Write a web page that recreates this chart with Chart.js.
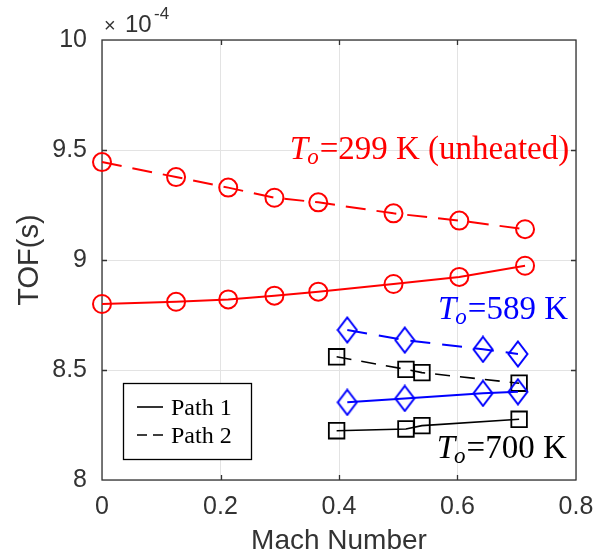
<!DOCTYPE html>
<html>
<head>
<meta charset="utf-8">
<script src="https://cdn.jsdelivr.net/npm/chart.js@4/dist/chart.umd.min.js"></script>
<style>
  html, body { margin: 0; padding: 0; background: #fff; }
  #wrap { width: 595px; height: 556px; }
</style>
</head>
<body>
<div id="wrap"><canvas id="tofChart" width="595" height="556"></canvas></div>
<script>
  // Mach number and time of flight (x 1e-4 s) per stagnation temperature
  const mach299 = [0, 0.125, 0.213, 0.291, 0.365, 0.492, 0.603, 0.714];
  const tof299Path1 = [8.800, 8.810, 8.821, 8.838, 8.856, 8.891, 8.923, 8.974];
  const tof299Path2 = [9.445, 9.377, 9.329, 9.283, 9.262, 9.212, 9.179, 9.140];

  const mach589 = [0.414, 0.511, 0.643, 0.702];
  const tof589Path1 = [8.353, 8.371, 8.394, 8.401];
  const tof589Path2 = [8.682, 8.636, 8.594, 8.573];

  const mach700 = [0.396, 0.513, 0.540, 0.704];
  const tof700Path1 = [8.224, 8.232, 8.247, 8.276];
  const tof700Path2 = [8.560, 8.503, 8.488, 8.440];

  const xTickLabels = ['0', '0.2', '0.4', '0.6', '0.8'];
  const yTickLabels = ['8', '8.5', '9', '9.5', '10'];

  // text placed at (x, y) in data units, left edge / baseline
  const tempLabels = [
    { temp: '299 K (unheated)', color: '#ff0000', x: 0.317, y: 9.459 },
    { temp: '589 K', color: '#0000ff', x: 0.567, y: 8.732 },
    { temp: '700 K', color: '#000000', x: 0.565, y: 8.100 },
  ];

  const axisColor = '#333333';
  const gridColor = '#e3e3e3';

  function toPoints(xs, ys) {
    return xs.map((x, i) => ({ x: x, y: ys[i] }));
  }

  // tall diamond marker (MATLAB 'd')
  function makeDiamond(color) {
    const c = document.createElement('canvas');
    c.width = 22; c.height = 28;
    const g = c.getContext('2d');
    g.strokeStyle = color;
    g.lineWidth = 2;
    g.beginPath();
    g.moveTo(11, 1.5);
    g.lineTo(20.5, 14);
    g.lineTo(11, 26.5);
    g.lineTo(1.5, 14);
    g.closePath();
    g.stroke();
    return c;
  }
  const diamond = makeDiamond('#0000ff');

  function series(xs, ys, color, dashed, marker, width) {
    return {
      data: toPoints(xs, ys),
      borderColor: color,
      borderWidth: width,
      borderDash: dashed || [],
      tension: 0,
      pointStyle: marker.style,
      pointRadius: marker.radius,
      pointBorderWidth: marker.width,
      pointBorderColor: color,
      pointBackgroundColor: 'rgba(0,0,0,0)',
      pointHoverRadius: marker.radius,
      clip: false,
    };
  }

  const circle = { style: 'circle', radius: 9, width: 2 };
  const square = { style: 'rect', radius: 11, width: 1.8 };
  const diam = { style: diamond, radius: 10, width: 2 };

  // box, inward ticks
  const axesBox = {
    id: 'axesBox',
    beforeDatasetsDraw(chart) {
      const { ctx, chartArea: a, scales } = chart;
      ctx.save();
      ctx.strokeStyle = axisColor;
      ctx.lineWidth = 1.3;
      ctx.strokeRect(a.left, a.top, a.right - a.left, a.bottom - a.top);
      ctx.beginPath();
      [0.2, 0.4, 0.6].forEach(v => {
        const px = Math.round(scales.x.getPixelForValue(v)) + 0.5;
        ctx.moveTo(px, a.bottom); ctx.lineTo(px, a.bottom - 5);
        ctx.moveTo(px, a.top); ctx.lineTo(px, a.top + 5);
      });
      [8.5, 9, 9.5].forEach(v => {
        const py = Math.round(scales.y.getPixelForValue(v)) + 0.5;
        ctx.moveTo(a.left, py); ctx.lineTo(a.left + 5, py);
        ctx.moveTo(a.right, py); ctx.lineTo(a.right - 5, py);
      });
      ctx.stroke();

      // exponent above the y axis
      ctx.fillStyle = axisColor;
      ctx.textBaseline = 'alphabetic';
      ctx.font = '20px "Liberation Sans"';
      ctx.fillText('\u00d7', a.left + 2, 32);
      ctx.font = '24px "Liberation Sans"';
      ctx.fillText('10', a.left + 23, 32);
      ctx.font = '17px "Liberation Sans"';
      ctx.fillText('-4', a.left + 52, 19);
      ctx.restore();
    },
    afterDraw(chart) {
      const { ctx, chartArea: a, scales } = chart;
      ctx.save();

      // temperature labels
      tempLabels.forEach(l => {
        let x = scales.x.getPixelForValue(l.x);
        const base = scales.y.getPixelForValue(l.y);
        ctx.fillStyle = l.color;
        ctx.textBaseline = 'alphabetic';
        ctx.textAlign = 'left';
        ctx.font = 'italic 33px "Liberation Serif"';
        ctx.fillText('T', x, base);
        x += ctx.measureText('T').width - 1;
        ctx.font = 'italic 23px "Liberation Serif"';
        ctx.fillText('o', x, base + 5);
        x += ctx.measureText('o').width + 1;
        ctx.font = '33px "Liberation Serif"';
        ctx.fillText('=' + l.temp, x, base);
      });

      // legend box
      const lx = a.left + 21, ly = a.bottom - 97, lw = 128, lh = 76;
      ctx.fillStyle = '#ffffff';
      ctx.fillRect(lx, ly, lw, lh);
      ctx.strokeStyle = '#000000';
      ctx.lineWidth = 1.3;
      ctx.strokeRect(lx + 0.5, ly + 0.5, lw, lh);
      ctx.lineWidth = 1.6;
      ctx.beginPath();
      ctx.moveTo(lx + 14, ly + 24); ctx.lineTo(lx + 40, ly + 24);
      ctx.stroke();
      ctx.setLineDash([10, 6]);
      ctx.beginPath();
      ctx.moveTo(lx + 14, ly + 52); ctx.lineTo(lx + 40, ly + 52);
      ctx.stroke();
      ctx.setLineDash([]);
      ctx.fillStyle = '#000000';
      ctx.font = '24px "Liberation Serif"';
      ctx.fillText('Path 1', lx + 48, ly + 32);
      ctx.fillText('Path 2', lx + 48, ly + 60);
      ctx.restore();
    }
  };

  const config = {
    type: 'line',
    data: {
      datasets: [
        series(mach299, tof299Path1, '#ff0000', null, circle, 2),
        series(mach299, tof299Path2, '#ff0000', [20, 11], circle, 2),
        series(mach589, tof589Path1, '#0000ff', null, diam, 2),
        series(mach589, tof589Path2, '#0000ff', [20, 12], diam, 2),
        series(mach700, tof700Path1, '#000000', null, square, 1.6),
        series(mach700, tof700Path2, '#000000', [15, 10], square, 1.6),
      ],
    },
    options: {
      responsive: false,
      animation: false,
      layout: { padding: { top: 40, right: 19, left: 0, bottom: 0 } },
      plugins: {
        legend: { display: false },
        tooltip: { enabled: false },
      },
      scales: {
        x: {
          type: 'linear',
          min: 0,
          max: 0.8,
          afterFit(scale) {
            scale.height = 76;
            scale.paddingLeft = 0;
            scale.paddingRight = 0;
          },
          ticks: {
            stepSize: 0.2,
            padding: 12,
            color: axisColor,
            font: { family: 'Liberation Sans', size: 25 },
            callback: (v, i) => xTickLabels[i],
          },
          grid: { color: gridColor, drawTicks: false },
          border: { display: false },
          title: {
            display: true,
            text: 'Mach Number',
            color: axisColor,
            font: { family: 'Liberation Sans', size: 28, lineHeight: 1 },
            padding: { top: 0, bottom: 1 },
          },
        },
        y: {
          min: 8,
          max: 10,
          afterFit(scale) {
            scale.width = 102;
            scale.paddingTop = 0;
            scale.paddingBottom = 0;
          },
          ticks: {
            stepSize: 0.5,
            padding: 15,
            color: axisColor,
            font: { family: 'Liberation Sans', size: 25 },
            callback: (v, i) => yTickLabels[i],
          },
          grid: { color: gridColor, drawTicks: false },
          border: { display: false },
          title: {
            display: true,
            text: 'TOF(s)',
            color: axisColor,
            font: { family: 'Liberation Sans', size: 29, lineHeight: 1 },
            padding: { top: 15, bottom: 0 },
          },
        },
      },
    },
    plugins: [axesBox],
  };

  const ctx = document.getElementById('tofChart').getContext('2d');
  new Chart(ctx, config);
</script>
</body>
</html>
